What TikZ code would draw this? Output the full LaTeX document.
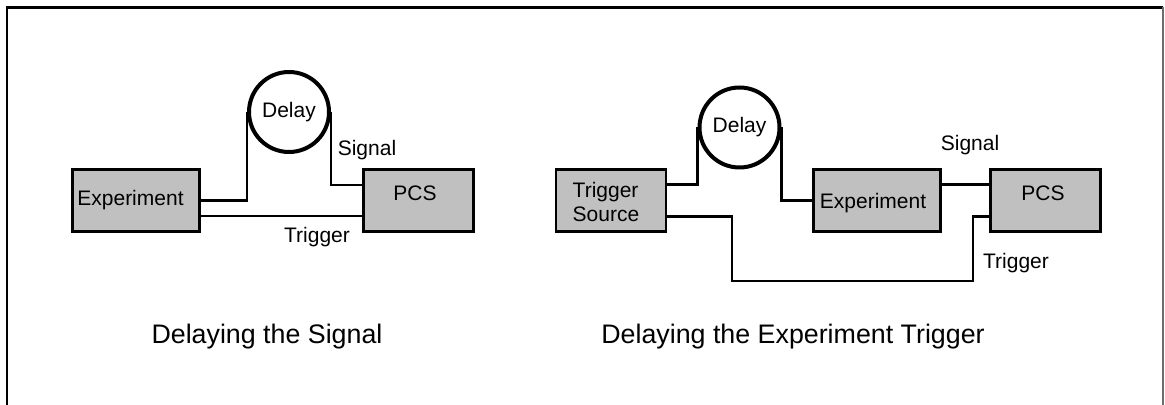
\documentclass[tikz,border=0pt]{standalone}
\usepackage{fontspec}
\setmainfont{Liberation Sans}
\definecolor{boxgray}{RGB}{192,192,192}
\definecolor{framegray}{RGB}{110,110,110}
\tikzset{
  unitbox/.style={draw=black, fill=boxgray, line width=1.4pt, inner sep=0pt,
                  minimum height=31pt},
  widebox/.style={unitbox, minimum width=63.5pt},
  narrowbox/.style={unitbox, minimum width=55pt},
  delaycircle/.style={draw=black, circle, line width=2pt, minimum size=40pt,
                      inner sep=0pt, font=\fontsize{10.5}{12}\selectfont},
  wire/.style={draw=black, line width=1.2pt},
  txt/.style={inner sep=0pt, font=\fontsize{10.5}{12}\selectfont},
  caption/.style={inner sep=0pt, font=\fontsize{13.4}{16}\selectfont},
}
\begin{document}
\begin{tikzpicture}[x=0.5pt, y=-0.5pt]
  \useasboundingbox (0,0) rectangle (1165,405);

  % page frame, open at the bottom
  \draw[line width=1.3pt] (7,405) -- (7,7.5) -- (1163,7.5);
  \draw[framegray, line width=0.6pt] (1163,7.5) -- (1163,405);

  % ---------- left: delaying the signal ----------
  \node[widebox]  (lexp)   at (136,200.5) {};
  \node[narrowbox] (lpcs)  at (418.5,200.5) {};
  \node[delaycircle] (ldelay) at (289,112) {Delay};
  \node[txt] at (130.5,200) {Experiment};
  \node[txt] at (415,193) {PCS};

  \draw[wire] (lexp.east) -| (ldelay.west);
  \draw[wire] (ldelay.east) |- ([yshift=7.75pt]lpcs.west);
  \draw[wire] ([yshift=-7.75pt]lexp.east) -- ([yshift=-7.75pt]lpcs.west);

  \node[txt] at (367,150) {Signal};
  \node[txt] at (317,237) {Trigger};

  \node[caption] at (267,337) {Delaying the Signal};

  % ---------- right: delaying the experiment trigger ----------
  \node[narrowbox] (rts)  at (611,200.5) {};
  \node[widebox]   (rexp) at (877,200.5) {};
  \node[narrowbox] (rpcs) at (1045.5,200.5) {};
  \node[delaycircle] (rdelay) at (739.5,127.5) {Delay};
  \node[txt, align=left] at (606,202) {Trigger\\Source};
  \node[txt] at (873,203) {Experiment};
  \node[txt] at (1043,193) {PCS};

  \coordinate (tdownA) at (732,281);
  \coordinate (tdownB) at (973,281);

  \draw[wire] ([yshift=8pt]rts.east) -| (rdelay.west);
  \draw[wire] (rdelay.east) |- (rexp.west);
  \draw[wire] ([yshift=8pt]rexp.east) -- ([yshift=8pt]rpcs.west);
  \draw[wire] ([yshift=-8pt]rts.east) -| (tdownA) -- (tdownB)
              |- ([yshift=-8pt]rpcs.west);

  \node[txt] at (970,145) {Signal};
  \node[txt] at (1016,263) {Trigger};

  \node[caption] at (793,337) {Delaying the Experiment Trigger};
\end{tikzpicture}
\end{document}
